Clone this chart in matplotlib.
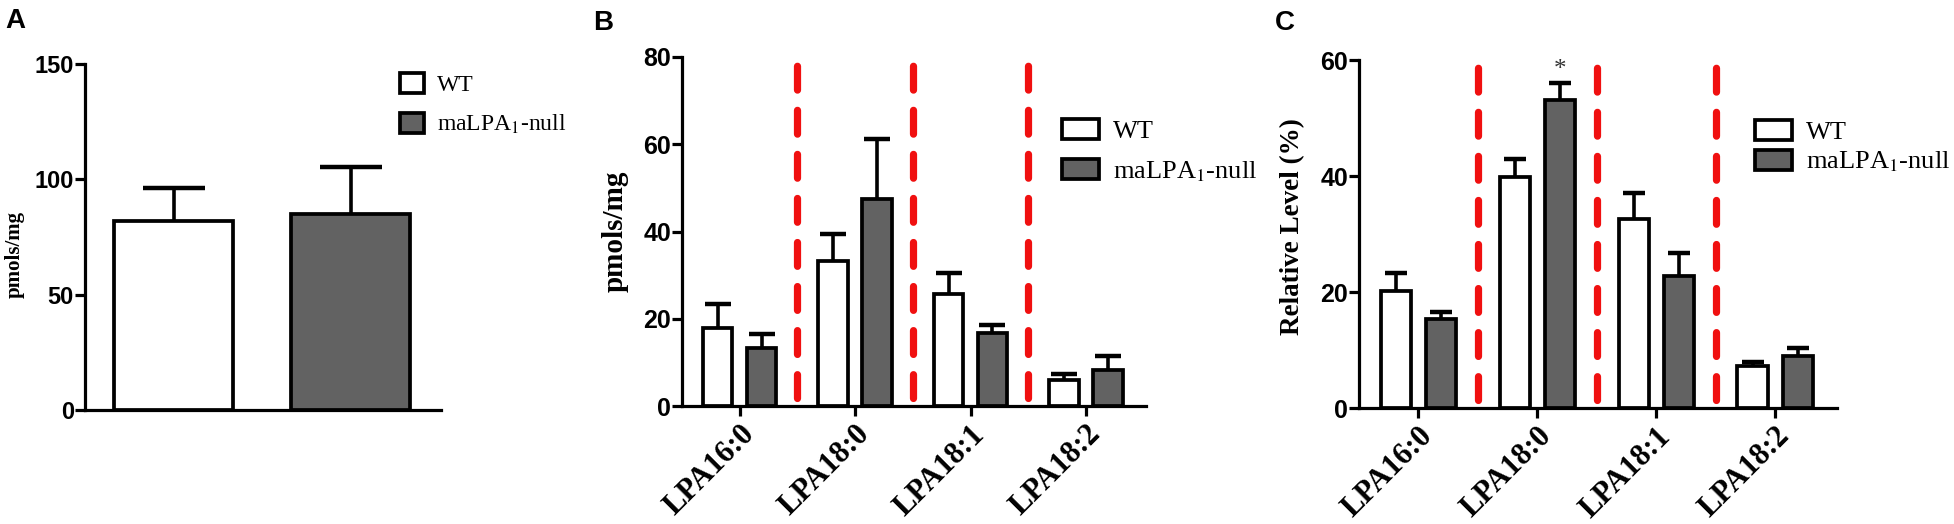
import matplotlib
matplotlib.use("Agg")
import matplotlib.pyplot as plt
from matplotlib.patches import Patch
import numpy as np

# ---------------- data ----------------
groups = ["WT", "maLPA$_1$-null"]

# Panel A: total LPA
a_means = [82.0, 85.1]
a_errs = [14.1, 20.1]

# Panels B and C: species
species = ["LPA16:0", "LPA18:0", "LPA18:1", "LPA18:2"]
b_wt = [17.9, 33.2, 25.6, 6.0]
b_wt_err = [5.4, 6.2, 4.8, 1.3]
b_null = [13.2, 47.5, 16.8, 8.2]
b_null_err = [3.2, 13.8, 1.8, 3.3]

c_wt = [20.2, 39.9, 32.6, 7.3]
c_wt_err = [3.1, 3.0, 4.5, 0.7]
c_null = [15.3, 53.1, 22.7, 9.0]
c_null_err = [1.2, 3.0, 4.1, 1.3]

a_ticks = [0, 50, 100, 150]
b_ticks = [0, 20, 40, 60, 80]
c_ticks = [0, 20, 40, 60]

# ---------------- style ----------------
plt.rcParams["mathtext.fontset"] = "stix"
SERIF = ["Liberation Serif", "DejaVu Serif"]
NARROW = ["Liberation Sans Narrow", "Liberation Sans", "DejaVu Sans"]
SANS = ["Liberation Sans", "DejaVu Sans"]
GRAY = "#626262"
RED = "#f01010"
SPINE_LW = 2.3
EDGE_LW = 2.7

W, H = 1954, 524
fig = plt.figure(figsize=(W / 100, H / 100), dpi=100)


def px_axes(l, r, t, b):
    return fig.add_axes([l / W, 1 - b / H, (r - l) / W, (b - t) / H])


def style_axes(ax, yticks, ylim, tick_fs):
    ax.set_ylim(*ylim)
    ax.set_yticks(yticks)
    for s in ("top", "right"):
        ax.spines[s].set_visible(False)
    for s in ("left", "bottom"):
        ax.spines[s].set_linewidth(SPINE_LW)
    ax.tick_params(axis="y", direction="out", length=7, width=SPINE_LW, pad=1)
    for lab in ax.get_yticklabels():
        lab.set_fontfamily(NARROW)
        lab.set_fontweight("bold")
        lab.set_fontsize(tick_fs)


def errbars(ax, x, y, e, capsize, lw=2.6):
    eb = ax.errorbar(x, y, yerr=[np.zeros(len(e)), e], fmt="none", ecolor="black",
                     elinewidth=lw, capsize=capsize, capthick=3.2, zorder=2)
    caps = eb[1]
    if len(caps) >= 2:
        caps[0].set_visible(False)


def legend(ax, anchor_px, fs, spacing, hl, hh):
    handles = [Patch(facecolor="white", edgecolor="black", linewidth=EDGE_LW),
               Patch(facecolor=GRAY, edgecolor="black", linewidth=EDGE_LW)]
    leg = ax.legend(handles, groups, loc="upper left",
                    bbox_to_anchor=(anchor_px[0] / W, 1 - anchor_px[1] / H),
                    bbox_transform=fig.transFigure, frameon=False,
                    prop={"family": SERIF, "size": fs}, borderpad=0,
                    borderaxespad=0, labelspacing=spacing, handlelength=hl,
                    handleheight=hh, handletextpad=0.55)
    return leg


# ---------------- Panel A ----------------
axA = px_axes(85, 441, 64, 410)
xa = np.arange(len(groups))
axA.bar(xa, a_means, width=0.67, color=["white", GRAY], edgecolor="black",
        linewidth=EDGE_LW, zorder=3)
errbars(axA, xa, a_means, a_errs, capsize=22)
axA.set_xlim(-0.5, 1.51)
axA.set_xticks([])
style_axes(axA, a_ticks, (0, 150), 17)
axA.set_ylabel("pmols/mg", family=SERIF, fontweight="bold", fontsize=15)
axA.yaxis.set_label_coords(-0.17, 0.45)
legend(axA, (400, 73), 17, 0.7, 1.0, 0.95)
fig.text(5 / W, 1 - 8 / H, "A", family=SANS, fontweight="bold", fontsize=20,
         va="top", ha="left")


def species_panel(l, r, t, b, wt, wte, nu, nue, ticks, ylim, ylabel, ylab_fs,
                  red_top, capsize, leg_anchor, leg_spacing, label, label_xy):
    ax = px_axes(l, r, t, b)
    x = np.arange(len(species))
    off, bw = 0.19, 0.255
    ax.bar(x - off, wt, width=bw, color="white", edgecolor="black",
           linewidth=EDGE_LW, zorder=3)
    ax.bar(x + off, nu, width=bw, color=GRAY, edgecolor="black",
           linewidth=EDGE_LW, zorder=3)
    errbars(ax, x - off, wt, wte, capsize)
    errbars(ax, x + off, nu, nue, capsize)
    for xv in x[:-1] + 0.5:
        ax.plot([xv, xv], [ylim[1] * 0.022, red_top], color=RED, lw=5.2,
                dashes=(3.3, 2.8), dash_capstyle="round", zorder=1)
    ax.set_xlim(-0.5, 3.52)
    ax.set_xticks(x)
    ax.set_xticklabels(species, rotation=45, ha="right", va="top",
                       rotation_mode="anchor", family=SERIF,
                       fontweight="bold", fontsize=22)
    ax.tick_params(axis="x", direction="out", length=7, width=SPINE_LW, pad=3)
    style_axes(ax, ticks, ylim, 18)
    ax.set_ylabel(ylabel, family=SERIF, fontweight="bold", fontsize=ylab_fs)
    legend(ax, leg_anchor, 19, leg_spacing, 1.4, 0.8)
    fig.text(label_xy[0] / W, 1 - label_xy[1] / H, label, family=SANS,
             fontweight="bold", fontsize=20, va="top", ha="left")
    return ax


axB = species_panel(682, 1146, 57, 406, b_wt, b_wt_err, b_null, b_null_err,
                    b_ticks, (0, 80), "pmols/mg", 21, 78.6, 9.5,
                    (1062, 119), 0.6, "B", (593, 10))
axB.yaxis.set_label_coords(-0.115, 0.5)

axC = species_panel(1359, 1837, 60, 408, c_wt, c_wt_err, c_null, c_null_err,
                    c_ticks, (0, 60), "Relative Level (%)", 19.5, 58.9, 8,
                    (1755, 120), 0.2, "C", (1275, 10))
axC.yaxis.set_label_coords(-0.112, 0.52)
# significance marker above maLPA1-null LPA18:0
axC.text(1 + 0.19, c_null[1] + c_null_err[1] + 2.2, "*", ha="center",
         va="center", fontsize=18, family=SERIF, color="#333333")

fig.savefig("out.png", dpi=100)
